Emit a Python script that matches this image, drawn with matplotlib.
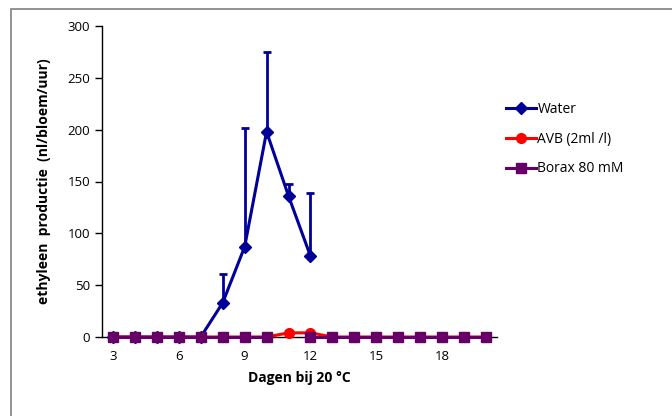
import numpy as np
import matplotlib.pyplot as plt
from matplotlib.patches import Rectangle

days = list(range(3, 21))
water = [0, 0, 0, 0, 0, 33, 87, 198, 136, 78] + [np.nan] * 8
water_err_top = [0, 0, 0, 0, 0, 61, 202, 275, 148, 139] + [np.nan] * 8
avb = [0, 0, 0, 0, 0, 0, 0, 0, 4, 4, 0, 0, 0, 0, 0, 0, 0, 0]
borax = [0, 0, 0, 0, 0, 0, 0, 0, np.nan, 0, 0, 0, 0, 0, 0, 0, 0, 0]
xtick_labels = [3, 6, 9, 12, 15, 18]

plt.rcParams['font.family'] = ['Open Sans', 'DejaVu Sans']

fig = plt.figure(figsize=(6.72, 4.16), dpi=100)
ax = fig.add_axes([102 / 672, 79 / 416, 395 / 672, 311 / 416])

# chart border (only left and top edges are in view)
fig.patches.append(Rectangle((10.5 / 672, -0.1), 1.2, (416 - 8.5) / 416 + 0.1,
                             transform=fig.transFigure, fill=False,
                             edgecolor='#808080', linewidth=1.2))

w = np.array(water, dtype=float)
err = np.array(water_err_top, dtype=float) - w
ax.errorbar(days, w, yerr=[np.zeros_like(err), err], fmt='none',
            ecolor='#000099', elinewidth=2, capsize=3, capthick=2, zorder=2)
ax.plot(days, w, color='#000099', lw=2.2, marker='D', ms=6.5, label='Water',
        zorder=3, clip_on=False)
ax.plot(days, avb, color='#FF0000', lw=2.2, marker='o', ms=7, label='AVB (2ml /l)',
        zorder=4, clip_on=False)
ax.plot(days, borax, color='#660066', lw=2.2, marker='s', ms=6.8, label='Borax 80 mM',
        zorder=5, clip_on=False)

ax.set_xlim(2.5, 20.5)
ax.set_ylim(0, 300)
ax.set_yticks(range(0, 301, 50))
ax.set_xticks(xtick_labels)
ax.tick_params(axis='x', length=0, labelsize=9.5, pad=9)
ax.tick_params(axis='y', length=5, width=1, labelsize=9.5)
for s in ['top', 'right']:
    ax.spines[s].set_visible(False)
ax.spines['left'].set_linewidth(1)
ax.spines['bottom'].set_linewidth(1)

ax.set_xlabel('Dagen bij 20 °C', fontsize=10, fontweight='bold', labelpad=6)
ax.set_ylabel('ethyleen  productie  (nl/bloem/uur)', fontsize=10, fontweight='bold', labelpad=12)

ax.legend(loc='upper left', bbox_to_anchor=(0.99, 0.795), frameon=False,
          fontsize=10, handlelength=2.2, handletextpad=0.1, labelspacing=1.05)

fig.savefig('out.png', dpi=100)
